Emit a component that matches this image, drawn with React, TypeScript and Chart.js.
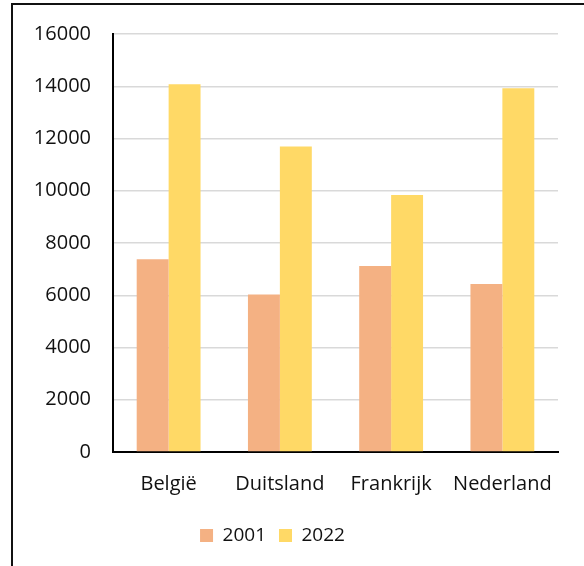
import React, { useEffect, useRef } from "react";
import { Chart, registerables } from "chart.js";

Chart.register(...registerables);

// Countries on the category axis
const categories: string[] = ["België", "Duitsland", "Frankrijk", "Nederland"];

// Series values per country
const values2001: number[] = [7380, 6030, 7120, 6430];
const values2022: number[] = [14080, 11690, 9840, 13920];

// Series names shown in the legend
const seriesNames: string[] = ["2001", "2022"];

// Value axis range
const yMin = 0;
const yMax = 16000;
const yStep = 2000;

const FONT = "'Open Sans', 'DejaVu Sans', sans-serif";
const TEXT = "#111111";

export default function App() {
  const canvasRef = useRef<HTMLCanvasElement | null>(null);

  useEffect(() => {
    const canvas = canvasRef.current;
    if (!canvas) return;
    const chart = new Chart(canvas, {
      type: "bar",
      data: {
        labels: categories,
        datasets: [
          {
            label: seriesNames[0],
            data: values2001,
            backgroundColor: "#F4B183",
            borderWidth: 0,
          },
          {
            label: seriesNames[1],
            data: values2022,
            backgroundColor: "#FFD966",
            borderWidth: 0,
          },
        ],
      },
      options: {
        responsive: false,
        animation: false,
        devicePixelRatio: 1,
        layout: { padding: { top: 33, right: 26, bottom: 11, left: 0 } },
        datasets: {
          bar: { categoryPercentage: 0.574, barPercentage: 1 },
        },
        plugins: {
          tooltip: { enabled: false },
          legend: {
            position: "bottom",
            align: "center",
            labels: {
              font: { family: FONT, size: 19 },
              color: TEXT,
              boxWidth: 13,
              boxHeight: 13,
              padding: 13,
            },
          },
        },
        scales: {
          x: {
            grid: { display: false, drawTicks: false },
            border: { display: true, color: "#000000", width: 2 },
            ticks: {
              font: { family: FONT, size: 20 },
              color: TEXT,
              padding: 20,
              maxRotation: 0,
              autoSkip: false,
            },
            afterFit: (scale: any) => {
              scale.height = 61;
            },
          },
          y: {
            min: yMin,
            max: yMax,
            grid: { color: "#d9d9d9", lineWidth: 1.5, drawTicks: false },
            border: { display: true, color: "#000000", width: 2 },
            ticks: {
              stepSize: yStep,
              font: { family: FONT, size: 20 },
              color: TEXT,
              padding: 22,
              callback: (value: any) => String(value),
            },
            afterFit: (scale: any) => {
              scale.width = 126;
            },
          },
        },
      },
    });
    return () => chart.destroy();
  }, []);

  return (
    <div
      style={{
        position: "fixed",
        left: 0,
        top: 0,
        width: 584,
        height: 566,
        overflow: "hidden",
        background: "#ffffff",
      }}
    >
      <div
        style={{
          position: "absolute",
          left: 11,
          top: 3,
          width: 1000,
          height: 1000,
          borderLeft: "2px solid #111",
          borderTop: "2px solid #111",
        }}
      />
      <canvas
        ref={canvasRef}
        width={597}
        height={566}
        style={{ position: "absolute", left: -13, top: 0, width: 597, height: 566 }}
      />
    </div>
  );
}
